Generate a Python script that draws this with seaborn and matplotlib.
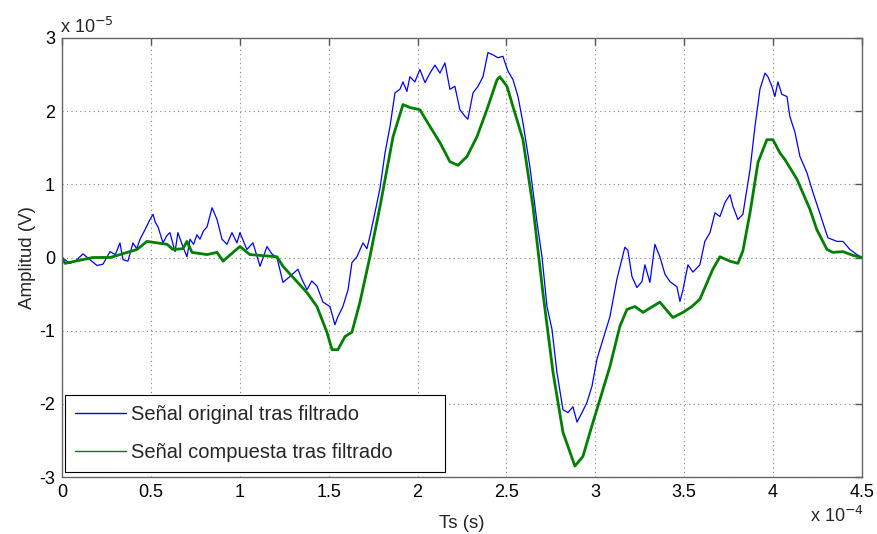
import numpy as np
import pandas as pd
import seaborn as sns
import matplotlib
matplotlib.use("Agg")
import matplotlib.pyplot as plt
from matplotlib.ticker import FuncFormatter

# ---- data (x in units of 1e-4 s, amplitude in units of 1e-5 V) ----
blue_t = [0.000, 0.045, 0.080, 0.118, 0.157, 0.197, 0.231, 0.270, 0.300, 0.326, 0.343,
          0.371, 0.399, 0.420, 0.439, 0.467, 0.495, 0.512, 0.525, 0.540, 0.568, 0.590, 0.607, 0.636,
          0.652, 0.681, 0.703, 0.720, 0.740, 0.759, 0.776, 0.795, 0.816, 0.844, 0.872, 0.900,
          0.928, 0.956, 0.984, 1.001, 1.040, 1.074, 1.114, 1.153, 1.180, 1.209, 1.243,
          1.282, 1.327, 1.350, 1.378, 1.405, 1.434, 1.468, 1.507, 1.520, 1.535, 1.550, 1.564, 1.580, 1.609,
          1.631, 1.659, 1.693, 1.715, 1.732, 1.760, 1.789, 1.817, 1.845, 1.873, 1.901,
          1.918, 1.940, 1.957, 1.985, 2.013, 2.042, 2.070, 2.098, 2.126, 2.154,
          2.182, 2.210, 2.238, 2.267, 2.283, 2.312, 2.340, 2.368, 2.396, 2.424,
          2.452, 2.480, 2.508, 2.537, 2.565, 2.593, 2.632, 2.672, 2.700, 2.728,
          2.756, 2.784, 2.818, 2.846, 2.874, 2.897, 2.925, 2.953, 2.981, 3.009,
          3.043, 3.082, 3.121, 3.166, 3.183, 3.206, 3.234, 3.262, 3.279, 3.307,
          3.335, 3.363, 3.392, 3.420, 3.459, 3.476, 3.493, 3.521, 3.549, 3.588,
          3.616, 3.645, 3.673, 3.701, 3.729, 3.757, 3.774, 3.802, 3.830, 3.870,
          3.898, 3.926, 3.954, 3.971, 3.993, 4.010, 4.027, 4.049, 4.078, 4.094,
          4.123, 4.151, 4.190, 4.224, 4.274, 4.308, 4.359, 4.393, 4.432, 4.471,
          4.500]
blue_v = [0.00, -0.08, -0.04, 0.05, -0.03, -0.11, -0.09, 0.08, 0.04, 0.20, -0.03,
          -0.05, 0.20, 0.12, 0.25, 0.38, 0.52, 0.59, 0.48, 0.42, 0.20, 0.30, 0.34, 0.08,
          0.34, 0.14, 0.01, 0.25, 0.18, 0.31, 0.25, 0.36, 0.42, 0.68, 0.52, 0.25,
          0.18, 0.34, 0.20, 0.34, 0.11, 0.20, -0.12, 0.15, 0.05, 0.00, -0.34,
          -0.26, -0.16, -0.30, -0.44, -0.32, -0.39, -0.61, -0.67, -0.78, -0.92, -0.82, -0.75, -0.67, -0.44,
          -0.07, 0.01, 0.20, 0.12, 0.29, 0.61, 0.95, 1.43, 1.79, 2.25, 2.30,
          2.40, 2.27, 2.47, 2.40, 2.57, 2.39, 2.52, 2.63, 2.52, 2.66,
          2.30, 2.34, 2.02, 1.93, 1.89, 2.25, 2.34, 2.47, 2.80, 2.77,
          2.73, 2.75, 2.55, 2.43, 2.20, 1.84, 1.24, 0.48, 0.01, -0.67,
          -0.98, -1.57, -2.08, -2.12, -2.04, -2.25, -2.12, -1.98, -1.76, -1.39,
          -1.12, -0.81, -0.30, 0.14, 0.10, -0.26, -0.41, -0.33, -0.10, -0.34,
          0.18, 0.01, -0.23, -0.33, -0.40, -0.60, -0.44, -0.10, -0.20, -0.10,
          0.22, 0.34, 0.61, 0.56, 0.75, 0.86, 0.70, 0.52, 0.59, 1.20,
          1.79, 2.30, 2.52, 2.47, 2.34, 2.20, 2.40, 2.23, 2.20, 1.93,
          1.71, 1.38, 1.16, 0.89, 0.52, 0.27, 0.22, 0.22, 0.11, 0.04,
          0.00]

green_t = [0.000, 0.017, 0.174, 0.270, 0.326, 0.422, 0.478, 0.534, 0.591, 0.624,
           0.680, 0.703, 0.731, 0.816, 0.872, 0.906, 0.962, 1.001, 1.057, 1.209,
           1.243, 1.299, 1.378, 1.434, 1.490, 1.519, 1.552, 1.592, 1.631, 1.676,
           1.732, 1.789, 1.862, 1.918, 1.957, 2.013, 2.070, 2.126, 2.182, 2.227,
           2.278, 2.334, 2.390, 2.447, 2.463, 2.503, 2.537, 2.593, 2.649, 2.705,
           2.762, 2.818, 2.885, 2.930, 2.987, 3.026, 3.082, 3.138, 3.178, 3.223,
           3.268, 3.363, 3.436, 3.493, 3.543, 3.588, 3.661, 3.701, 3.757, 3.802,
           3.830, 3.870, 3.915, 3.965, 3.999, 4.038, 4.066, 4.134, 4.207, 4.246,
           4.303, 4.336, 4.393, 4.449, 4.500]
green_v = [0.00, -0.08, 0.00, 0.00, 0.04, 0.11, 0.22, 0.20, 0.18, 0.11,
           0.12, 0.22, 0.07, 0.04, 0.07, -0.05, 0.07, 0.15, 0.04, 0.01,
           -0.12, -0.27, -0.48, -0.67, -1.02, -1.26, -1.26, -1.08, -1.02, -0.61,
           0.01, 0.70, 1.65, 2.09, 2.05, 2.02, 1.79, 1.57, 1.31, 1.26,
           1.38, 1.65, 2.02, 2.43, 2.47, 2.34, 2.06, 1.61, 0.70, -0.48,
           -1.57, -2.39, -2.85, -2.72, -2.25, -1.94, -1.49, -0.94, -0.71, -0.67,
           -0.75, -0.61, -0.82, -0.75, -0.67, -0.57, -0.16, 0.01, -0.05, -0.08,
           0.09, 0.61, 1.30, 1.61, 1.61, 1.43, 1.34, 1.07, 0.66, 0.38,
           0.11, 0.07, 0.08, 0.03, 0.00]

labels = ["Señal original tras filtrado", "Señal compuesta tras filtrado"]
x_ticks = [0, 0.5, 1, 1.5, 2, 2.5, 3, 3.5, 4, 4.5]
y_ticks = [-3, -2, -1, 0, 1, 2, 3]

df_blue = pd.DataFrame({"t": blue_t, "v": blue_v})
df_green = pd.DataFrame({"t": green_t, "v": green_v})

sns.set_style("white")
plt.rcParams["font.family"] = ["Liberation Sans", "DejaVu Sans"]

fig = plt.figure(figsize=(8.77, 5.34), dpi=100)
ax = fig.add_axes([62 / 877, 57 / 534, 800 / 877, 439 / 534])

sns.lineplot(data=df_blue, x="t", y="v", ax=ax, color=(0, 0, 1), linewidth=0.9,
             label=labels[0], sort=False, estimator=None)
sns.lineplot(data=df_green, x="t", y="v", ax=ax, color=(0, 0.5, 0), linewidth=2.0,
             label=labels[1], sort=False, estimator=None)

ax.set_xlim(0, 4.5)
ax.set_ylim(-3, 3)
ax.set_xticks(x_ticks)
ax.set_yticks(y_ticks)
ax.xaxis.set_major_formatter(FuncFormatter(lambda v, p: f"{v:g}"))
ax.yaxis.set_major_formatter(FuncFormatter(lambda v, p: f"{v:g}"))
ax.tick_params(direction="in", length=5, width=1, colors="#555555",
               labelcolor="black", labelsize=13, top=True, right=True, pad=5)
ax.grid(True, linestyle=(0, (1, 3)), color="#888888", linewidth=0.8)
for s in ax.spines.values():
    s.set_color("#666666")
    s.set_linewidth(1.0)

ax.set_xlabel("Ts (s)", fontsize=13.5, labelpad=10)
ax.set_ylabel("Amplitud (V)", fontsize=13.5, labelpad=2)

fig.text(60 / 877, 1 - 27 / 534, r"x 10$^{-5}$", fontsize=13, ha="left", va="center")
fig.text(864 / 877, 1 - 516 / 534, r"x 10$^{-4}$", fontsize=13, ha="right", va="center")

leg = ax.legend(loc="lower left", bbox_to_anchor=(0.004, 0.011, 0.475, 0.17), mode="expand",
                fontsize=14.5, frameon=True, fancybox=False, framealpha=1, edgecolor="black",
                handlelength=2.5, labelspacing=0.95, borderpad=0.5, handletextpad=0.25,
                borderaxespad=0)
leg.get_frame().set_linewidth(0.8)
for h in leg.get_lines():
    h.set_linewidth(1.0)

fig.savefig("out.png", dpi=100, facecolor="white")
